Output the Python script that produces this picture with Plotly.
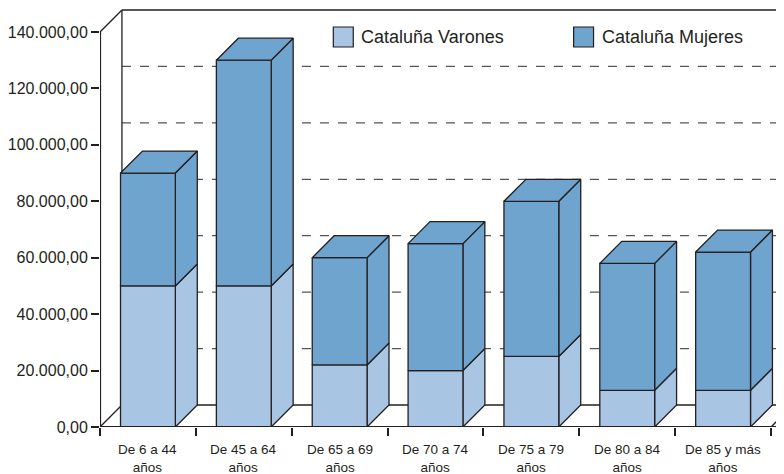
import plotly.graph_objects as go

# ---------------- data ----------------
categories = ["De 6 a 44<br>años", "De 45 a 64<br>años", "De 65 a 69<br>años",
              "De 70 a 74<br>años", "De 75 a 79<br>años", "De 80 a 84<br>años",
              "De 85 y más<br>años"]
series_names = ["Cataluña Varones", "Cataluña Mujeres"]
varones = [50000, 50000, 22000, 20000, 25000, 13000, 13000]
mujeres = [40000, 80000, 38000, 45000, 55000, 45000, 49000]
y_tick_values = [0, 20000, 40000, 60000, 80000, 100000, 120000, 140000]
y_tick_labels = ["0,00", "20.000,00", "40.000,00", "60.000,00", "80.000,00",
                 "100.000,00", "120.000,00", "140.000,00"]

# ---------------- styling / geometry ----------------
OFF = 8                              # page body margin of the browser
W, H = 784 - OFF, 474 - OFF
ML, MR, MT, MB = 98 - OFF, 0, 0, 47
PLOT_W = W - ML - MR
PLOT_H = H - MT - MB
CAT_PX = 96.14                      # pixels per category
Y_MAX = 140000
Y_PX = 395 / Y_MAX                  # pixels per unit value
DEPTH = 22                          # 3-D depth in pixels
DXU = DEPTH / CAT_PX
DYV = DEPTH / Y_PX
BAR_W = 55 / CAT_PX
X_RANGE = [-0.5, -0.5 + PLOT_W / CAT_PX]
Y_RANGE = [0, PLOT_H / Y_PX]

COL_V = "#a8c5e3"
COL_M = "#6fa4cf"
EDGE = "#231f20"
FONT = "Liberation Sans, Arial, Helvetica, sans-serif"
colors = [COL_V, COL_M]

fig = go.Figure()


def poly(xs, ys, color):
    fig.add_trace(go.Scatter(
        x=xs + [xs[0]], y=ys + [ys[0]], mode="lines", fill="toself",
        fillcolor=color, line=dict(color=EDGE, width=1.3),
        hoverinfo="skip", showlegend=False))


# bars (front + side + top faces computed from the values)
for i in range(len(categories)):
    x0, x1 = i - BAR_W / 2, i + BAR_W / 2
    base = 0
    for vals, col in ((varones, COL_V), (mujeres, COL_M)):
        top = base + vals[i]
        poly([x1, x1 + DXU, x1 + DXU, x1], [base, base + DYV, top + DYV, top], col)
        poly([x0, x1, x1, x0], [base, base, top, top], col)
        base = top
    poly([x0, x1, x1 + DXU, x0 + DXU], [base, base, base + DYV, base + DYV], COL_M)

# ---------------- frame (back wall, floor, grid) ----------------
shapes = []
bx = -0.5 + DXU
xr = X_RANGE[1] + 1
ln = dict(color=EDGE, width=1.3)
for v in y_tick_values[1:-1]:
    shapes.append(dict(type="line", xref="x", yref="y", x0=bx, x1=xr, y0=v + DYV, y1=v + DYV,
                       line=dict(color="#555555", width=1.2, dash="dash"), layer="below"))
shapes += [
    dict(type="line", xref="x", yref="y", x0=bx, x1=xr, y0=Y_MAX + DYV, y1=Y_MAX + DYV, line=ln, layer="below"),
    dict(type="line", xref="x", yref="y", x0=bx, x1=xr, y0=DYV, y1=DYV, line=ln, layer="below"),
    dict(type="line", xref="x", yref="y", x0=bx, x1=bx, y0=DYV, y1=Y_MAX + DYV, line=ln, layer="below"),
    dict(type="line", xref="x", yref="y", x0=-0.5, x1=bx, y0=Y_MAX, y1=Y_MAX + DYV, line=ln, layer="below"),
    dict(type="line", xref="x", yref="y", x0=-0.5, x1=bx, y0=0, y1=DYV, line=ln, layer="below"),
    dict(type="line", xref="x", yref="y", x0=len(categories) - 0.5, x1=len(categories) - 0.5 + DXU,
         y0=0, y1=DYV, line=ln, layer="below"),
    # front axes
    dict(type="line", xref="x", yref="y", x0=-0.5, x1=-0.5, y0=0, y1=Y_MAX,
         line=dict(color=EDGE, width=2.2), layer="above"),
    dict(type="line", xref="x", yref="y", x0=-0.5, x1=xr, y0=0, y1=0,
         line=dict(color=EDGE, width=2.2), layer="above"),
]

# ---------------- legend (manual, to match swatch size) ----------------
def px_x(p):
    return (p - OFF - ML) / PLOT_W


def px_y(p):
    return (H - MB - (p - OFF)) / PLOT_H


annotations = []
for name, col, sx in zip(series_names, colors, [332, 573]):
    shapes.append(dict(type="rect", xref="paper", yref="paper",
                       x0=px_x(sx), x1=px_x(sx + 20), y0=px_y(47), y1=px_y(27),
                       fillcolor=col, line=dict(color=EDGE, width=1.2), layer="above"))
    annotations.append(dict(xref="paper", yref="paper", x=px_x(sx + 26), y=px_y(37),
                            xanchor="left", yanchor="middle", text=name, showarrow=False,
                            font=dict(family=FONT, size=18, color="#231f20")))

# category labels
for i, c in enumerate(categories):
    annotations.append(dict(xref="x", yref="paper", x=i, y=0, xanchor="center", yanchor="top",
                            yshift=-13, text=c, showarrow=False,
                            font=dict(family=FONT, size=13.5, color="#231f20")))

fig.update_layout(
    width=W, height=H,
    margin=dict(l=ML, r=MR, t=MT, b=MB, pad=0),
    paper_bgcolor="white", plot_bgcolor="white",
    showlegend=False,
    shapes=shapes, annotations=annotations,
    font=dict(family=FONT, color="#231f20"),
    xaxis=dict(range=X_RANGE, showgrid=False, zeroline=False, showline=False,
               tickmode="array", tickvals=[i - 0.5 for i in range(len(categories) + 1)],
               showticklabels=False, ticks="outside", ticklen=8, tickwidth=1.5,
               tickcolor=EDGE, fixedrange=True),
    yaxis=dict(range=Y_RANGE, showgrid=False, zeroline=False, showline=False,
               tickmode="array", tickvals=y_tick_values, ticktext=y_tick_labels,
               ticks="outside", ticklen=8, tickwidth=2, tickcolor=EDGE,
               tickfont=dict(family=FONT, size=16, color="#231f20"), fixedrange=True),
)

fig.write_html("out.html")
